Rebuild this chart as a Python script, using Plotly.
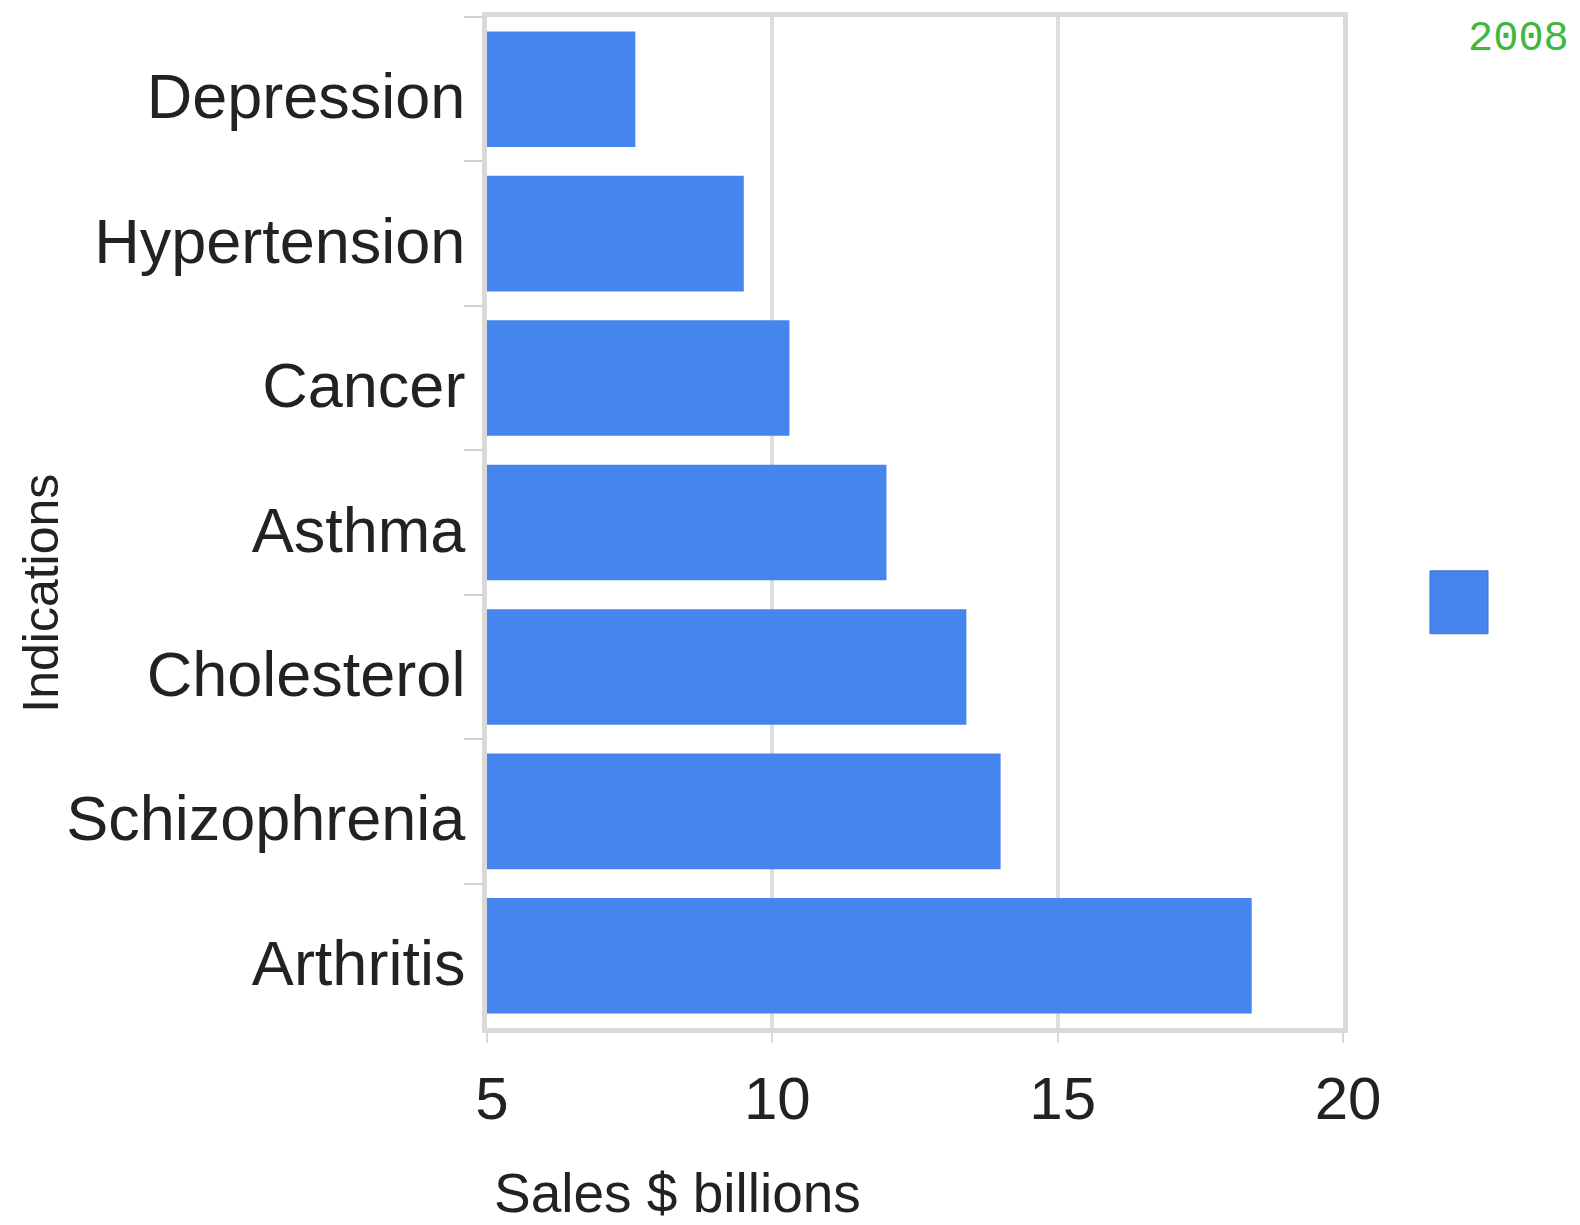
import plotly.graph_objects as go

# Drug sales by indication, 2008 (US$ billions)
indications = ["Depression", "Hypertension", "Cancer", "Asthma",
               "Cholesterol", "Schizophrenia", "Arthritis"]
sales = [7.6, 9.5, 10.3, 12.0, 13.4, 14.0, 18.4]
x_ticks = [5, 10, 15, 20]
year_label = "2008"

BAR_BLUE = "#4684EE"
TEXT = "#222222"
FONT = "Liberation Sans, Arial, sans-serif"

fig = go.Figure(
    go.Bar(
        x=sales,
        y=indications,
        orientation="h",
        marker=dict(color=BAR_BLUE, line=dict(width=0)),
        showlegend=False,
    )
)

fig.update_layout(
    width=1580,
    height=1225,
    margin=dict(l=487, r=237, t=13, b=197),
    paper_bgcolor="white",
    plot_bgcolor="white",
    bargap=0.2,
    font=dict(family=FONT, color=TEXT),
    xaxis=dict(
        range=[5, 20],
        tickvals=x_ticks,
        ticktext=[str(v) for v in x_ticks],
        tickfont=dict(size=60, color=TEXT),
        showgrid=True,
        gridcolor="#dedede",
        gridwidth=4,
        showline=True,
        mirror=True,
        linecolor="#d9d9d9",
        linewidth=5,
        ticks="outside",
        ticklen=10,
        tickwidth=2,
        tickcolor="#d9d9d9",
        zeroline=False,
        ticklabelstandoff=4,
        ticklabelshift=5,
    ),
    yaxis=dict(
        autorange="reversed",
        tickfont=dict(size=63, color=TEXT),
        showline=True,
        mirror=True,
        linecolor="#d9d9d9",
        linewidth=5,
        ticks="outside",
        tickson="boundaries",
        ticklen=18,
        tickwidth=2,
        tickcolor="#d0d0d0",
        showgrid=False,
        ticklabelstandoff=4,
        ticklabelshift=-7,
    ),
    annotations=[
        dict(
            text="Sales $ billions",
            xref="paper", yref="paper",
            x=0.223, y=-0.163,
            xanchor="center", yanchor="middle",
            showarrow=False,
            font=dict(size=55, color=TEXT, family=FONT),
        ),
        dict(
            text="Indications",
            xref="paper", yref="paper",
            x=-0.521, y=0.4296,
            xanchor="center", yanchor="middle",
            textangle=-90,
            showarrow=False,
            font=dict(size=50, color=TEXT, family=FONT),
        ),
        dict(
            text=year_label,
            xref="paper", yref="paper",
            x=1.2056, y=0.978,
            xanchor="center", yanchor="middle",
            showarrow=False,
            font=dict(size=42, color="#3cb83c", family="Liberation Mono, DejaVu Sans Mono, monospace"),
        ),
    ],
    shapes=[
        # legend swatch for the single series
        dict(
            type="rect",
            xref="paper", yref="paper",
            x0=1.1016, x1=1.1694, y0=0.390, y1=0.4522,
            fillcolor=BAR_BLUE,
            line=dict(color="#3f74d4", width=1),
        ),
    ],
)

fig.write_html("out.html")
